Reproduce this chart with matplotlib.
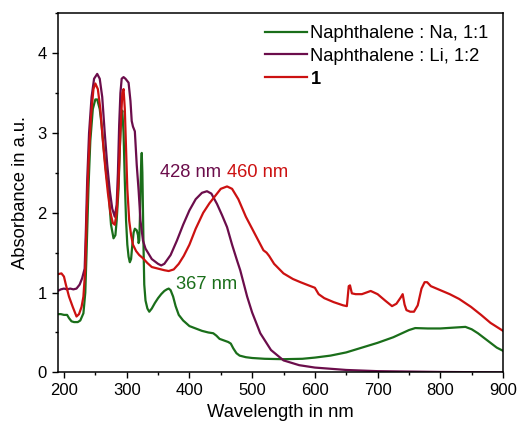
import matplotlib
matplotlib.use("Agg")
import matplotlib.pyplot as plt
from matplotlib.ticker import MultipleLocator

plt.rcParams['font.family'] = ['Liberation Sans', 'DejaVu Sans']

# Naphthalene : Na, 1:1
wl_na = [190,195,200,205,208,212,216,222,226,231,234,236,239,242,246,250,253,257,260,264,268,271,275,279,282,284,287,289,291,293,295,297,299,301,303,305,307,309,311,313,316,318,319,320,321,322,323,324,325,326,327,328,330,333,336,340,345,350,355,360,364,367,370,374,378,383,390,400,410,420,430,438,443,448,455,462,466,470,475,480,490,500,520,550,580,600,625,650,675,700,725,750,760,780,800,820,840,850,860,870,880,890,900]
ab_na = [0.73,0.73,0.72,0.72,0.68,0.64,0.63,0.63,0.65,0.74,1.0,1.5,2.3,2.9,3.3,3.42,3.42,3.3,3.1,2.75,2.45,2.28,1.85,1.68,1.72,1.9,2.3,2.8,3.2,3.28,3.0,2.4,1.9,1.6,1.45,1.38,1.42,1.6,1.75,1.8,1.78,1.72,1.62,1.65,1.9,2.3,2.6,2.75,2.5,2.0,1.5,1.1,0.9,0.8,0.76,0.8,0.87,0.93,0.98,1.02,1.04,1.05,1.03,0.95,0.83,0.72,0.65,0.58,0.55,0.52,0.5,0.49,0.46,0.42,0.4,0.38,0.36,0.3,0.24,0.21,0.19,0.18,0.17,0.165,0.17,0.185,0.21,0.25,0.31,0.37,0.44,0.53,0.555,0.55,0.55,0.56,0.57,0.54,0.49,0.43,0.37,0.31,0.27]

# Naphthalene : Li, 1:2
wl_li = [190,195,200,205,210,215,220,225,229,233,235,237,240,244,248,253,257,261,265,269,273,277,281,284,286,288,290,292,295,298,301,303,306,308,310,313,316,319,322,326,330,340,350,355,360,370,380,390,400,410,420,428,435,444,452,460,468,476,481,492,500,513,530,550,575,600,650,700,800,900]
ab_li = [1.02,1.04,1.05,1.04,1.05,1.04,1.05,1.1,1.18,1.3,1.8,2.4,3.0,3.45,3.68,3.74,3.68,3.45,3.0,2.6,2.28,2.05,1.95,2.1,2.5,3.1,3.5,3.68,3.70,3.68,3.65,3.63,3.4,3.15,3.08,3.02,2.6,2.28,1.9,1.65,1.55,1.42,1.36,1.34,1.36,1.47,1.65,1.85,2.03,2.17,2.25,2.27,2.24,2.11,1.97,1.82,1.6,1.4,1.28,0.95,0.75,0.49,0.28,0.15,0.09,0.06,0.03,0.015,0.005,0.0]

# compound 1
wl_1 = [190,196,200,203,208,214,220,224,228,231,234,236,239,243,247,250,254,258,262,266,270,274,278,281,284,287,290,293,295,297,299,301,304,307,310,315,320,326,333,340,350,360,367,375,383,391,400,410,422,432,440,450,460,468,478,490,500,510,518,523,527,535,550,565,577,590,600,603,606,615,630,645,651,654,656,659,665,675,689,700,712,723,730,737,740,743,746,752,758,764,770,775,779,785,800,815,830,849,865,880,890,900]
ab_1 = [1.23,1.24,1.2,1.1,0.95,0.82,0.70,0.73,0.82,0.95,1.3,1.9,2.6,3.2,3.55,3.62,3.55,3.3,2.9,2.55,2.25,2.0,1.87,1.85,2.0,2.4,3.0,3.5,3.55,3.3,2.8,2.3,1.9,1.72,1.6,1.52,1.47,1.43,1.37,1.32,1.30,1.28,1.27,1.29,1.36,1.46,1.6,1.8,2.0,2.12,2.2,2.3,2.33,2.3,2.17,1.95,1.8,1.65,1.53,1.5,1.46,1.36,1.24,1.17,1.13,1.09,1.06,1.02,0.98,0.93,0.88,0.84,0.83,1.08,1.09,0.99,0.98,0.98,1.02,0.98,0.9,0.83,0.86,0.94,0.98,0.85,0.78,0.76,0.76,0.84,1.05,1.13,1.13,1.08,1.03,0.98,0.92,0.82,0.72,0.62,0.57,0.52]

labels = ["Naphthalene : Na, 1:1", "Naphthalene : Li, 1:2", "1"]
colors = ['#1a6e1a', '#6b0d4b', '#cc1111']

fig = plt.figure(figsize=(5.17, 4.28), dpi=100)
ax = fig.add_axes([0.1116, 0.130, 0.8614, 0.839])

ax.plot(wl_na, ab_na, color=colors[0], lw=1.6, label=labels[0])
ax.plot(wl_li, ab_li, color=colors[1], lw=1.6, label=labels[1])
ax.plot(wl_1, ab_1, color=colors[2], lw=1.6, label=labels[2])

ax.set_xlim(190, 900)
ax.set_ylim(0, 4.5)
ax.xaxis.set_major_locator(MultipleLocator(100))
ax.xaxis.set_minor_locator(MultipleLocator(50))
ax.yaxis.set_major_locator(MultipleLocator(1))
ax.yaxis.set_minor_locator(MultipleLocator(0.5))
ax.tick_params(which='major', direction='out', length=4.3, width=1, labelsize=12, top=False, right=False)
ax.tick_params(which='minor', direction='out', length=2.4, width=1, top=False, right=False)
for s in ax.spines.values():
    s.set_linewidth(1.1)

ax.set_xlabel("Wavelength in nm", fontsize=13.2, labelpad=4)
ax.set_ylabel("Absorbance in a.u.", fontsize=13.2, labelpad=6)

ax.text(353, 2.5, "428 nm", color=colors[1], fontsize=13.2, va='center', ha='left')
ax.text(460, 2.5, "460 nm", color=colors[2], fontsize=13.2, va='center', ha='left')
ax.text(379, 1.10, "367 nm", color=colors[0], fontsize=13.2, va='center', ha='left')

leg = ax.legend(loc='upper left', bbox_to_anchor=(0.442, 0.995), frameon=False, fontsize=13.2,
                handlelength=2.3, handletextpad=0.2, labelspacing=0.31, borderaxespad=0.15)
leg.get_texts()[2].set_fontweight('bold')

fig.savefig("out.png", dpi=100)
